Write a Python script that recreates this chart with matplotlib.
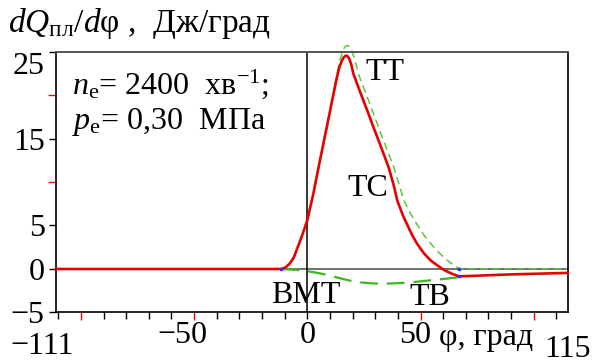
import matplotlib
matplotlib.use('Agg')
import matplotlib.pyplot as plt

plt.rcParams['font.family'] = ['Liberation Serif', 'DejaVu Serif']
plt.rcParams['mathtext.fontset'] = 'custom'
plt.rcParams['mathtext.rm'] = 'Liberation Serif'
plt.rcParams['mathtext.it'] = 'Liberation Serif:italic'

# heat release rate, dQ/dphi
phi_q = [-111, -11.4, -9.5, -7.7, -6, -4.7, -2.5, 0, 2.7, 5.6, 8.6, 11, 12.5,
         13.5, 14.3, 15.2, 16, 16.8, 17.6, 18.5, 19.4, 20.4, 23.4, 26.5, 29.5,
         32.3, 35.9, 38.2, 39.7, 42, 44.1, 46.3, 48.5, 51.5, 54.4, 57.5, 60.3,
         63.5, 67, 90, 115]
q_total = [0, 0, 0.2, 0.65, 1.3, 2.2, 3.7, 5.6, 8.7, 12.5, 16.3, 19.4, 21.3,
           22.5, 23.3, 23.9, 24.3, 24.5, 24.5, 24.2, 23.5, 22.4, 20.3, 18.2, 16.1,
           14.2, 11.7, 9.6, 7.9, 6.3, 5.1, 3.9, 2.9, 1.8, 1.0, 0.4, -0.1,
           -0.5, -0.85, -0.62, -0.45]

# heat from combustion
phi_comb = [-11.4, -9.5, -7.7, -6, -4.7, -2.5, 0, 2.7, 5.6, 8.6, 11, 13.5, 14.6,
            15.6, 16.5, 17.5, 18.5, 19.5, 20.8, 22.6, 26.4, 29.3, 32, 34.5, 38.2,
            41.1, 42.6, 45.5, 48.5, 52, 55.9, 58.8, 61.8, 64.8, 67.7, 115]
q_comb = [0, 0.2, 0.65, 1.3, 2.2, 3.7, 5.6, 8.7, 12.5, 16.3, 19.6, 23.0, 24.2,
          25.0, 25.5, 25.7, 25.6, 25.2, 24.2, 22.4, 19.8, 17.8, 15.9, 14.2, 11.7,
          9.2, 7.9, 6.4, 5.1, 3.7, 2.5, 1.7, 1.0, 0.4, 0, 0]

# heat losses to the walls
phi_loss = [-11.4, -5, 0, 5.6, 12, 17.5, 22, 27.8, 33, 38.2, 45, 53, 60, 67]
q_loss = [0, -0.1, -0.25, -0.5, -0.9, -1.26, -1.5, -1.64, -1.7, -1.65, -1.55,
          -1.34, -1.15, -0.95]

x_ticks = [v for v in range(-110, 111, 10) if v == 0 or v % 50 != 0]
x_red_ticks = [-100, -50, 50, 100]
x_labels = {-50: '−50', 0: '0', 50: '50'}
x_ends = [-111, 115]
y_ticks = [-5, 0, 5, 15, 25]
y_labels = ['−5', '0', '5', '15', '25']
y_red_ticks = [10, 20]

FS = 23

fig = plt.figure(figsize=(5.95, 3.64), dpi=100)
ax = fig.add_axes([0.0941, 0.1415, 0.860, 0.717])
ax.set_xlim(x_ends[0], x_ends[1])
ax.set_ylim(-5, 25)

ax.axhline(0, color='#555555', lw=1.2, zorder=1)
ax.axvline(0, color='black', lw=1.1, zorder=1)

ax.plot(phi_comb, q_comb, color='#5cc83c', lw=1.1, dashes=(5, 3), zorder=2,
        clip_on=False)
ax.plot(phi_loss, q_loss, color='#3cb81c', lw=1.6, dashes=(8, 4), zorder=2)
ax.plot(phi_q, q_total, color='#e60000', lw=1.9, zorder=3, clip_on=False,
        solid_joinstyle='round')
ax.plot([-11.4, 67, 67], [0, 0, -0.85], ls='none', marker='s', ms=1.5,
        color='#2233ff', zorder=4)

for side in ['left', 'bottom', 'right']:
    ax.spines[side].set_color('black')
    ax.spines[side].set_linewidth(1.2)
ax.spines['top'].set_color('#555555')
ax.spines['top'].set_linewidth(1.4)

ax.set_xticks(x_ticks)
ax.set_xticks(x_red_ticks, minor=True)
ax.set_xticklabels([])
ax.set_xticklabels([], minor=True)
ax.set_yticks(y_ticks)
ax.set_yticks(y_red_ticks, minor=True)
ax.set_yticklabels(y_labels, fontsize=FS)
ax.tick_params(axis='x', which='both', direction='out', length=5, width=1.0)
ax.tick_params(axis='y', which='both', direction='out', length=5, width=1.0,
               pad=3)
ax.tick_params(which='minor', color='#ff0000', length=6)
ax.get_yticklabels()[-1].set_verticalalignment('top')

# tick values along phi, slightly shifted like in the source figure
for v, s in x_labels.items():
    shift = -5 if v < 0 else (-2.5 if v > 0 else 0)
    ax.text(v + shift, -7.6, s, fontsize=FS, ha='center', va='center')
ax.text(x_ends[0] - 6, -8.9, '−111', fontsize=FS, ha='center', va='center')
ax.text(x_ends[1], -9.3, '115', fontsize=FS, ha='center', va='center')
ax.text(79, -7.9, 'φ, град', fontsize=FS, ha='center', va='center')

ax.text(-104, 20.1, r'$n_{\mathrm{е}}$= 2400  хв$^{−1}$;', fontsize=FS,
        ha='left', va='baseline')
ax.text(-104, 16.1, r'$p_{\mathrm{е}}$= 0,30  МПа', fontsize=FS,
        ha='left', va='baseline')

ax.text(34.5, 22.6, 'ТТ', fontsize=FS, ha='center', va='center')
ax.text(26.7, 9.3, 'ТС', fontsize=FS, ha='center', va='center')
ax.text(-0.7, -3.0, 'ВМТ', fontsize=FS, ha='center', va='center')
ax.text(54, -3.3, 'ТВ', fontsize=FS, ha='center', va='center')

fig.text(8 / 595, 1 - 32 / 364, r'$dQ_{\mathrm{пл}}/d\mathrm{φ}$ ,  Дж/град',
         fontsize=24, ha='left', va='baseline')

fig.savefig('out.png', dpi=100)
